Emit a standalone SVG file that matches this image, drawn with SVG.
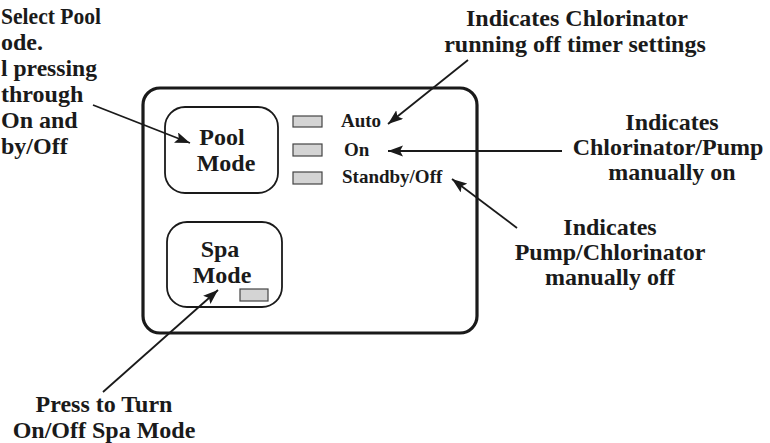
<svg xmlns="http://www.w3.org/2000/svg" width="770" height="443" viewBox="0 0 770 443">
<defs>
<marker id="ah" markerUnits="userSpaceOnUse" markerWidth="16" markerHeight="12" refX="15" refY="5.5" orient="auto">
<path d="M0,0 L15,5.5 L0,11 L3,5.5 z" fill="#1a1a1a"/>
</marker>
<style>
.lbl{font-family:"Liberation Serif","Times New Roman",serif;font-weight:bold;font-size:24px;fill:#1a1a1a}
.sm{font-family:"Liberation Serif","Times New Roman",serif;font-weight:bold;font-size:19px;fill:#1a1a1a}
.btn{fill:#fff;stroke:#1a1a1a;stroke-width:1.8}
.led{fill:#d4d4d4;stroke:#444;stroke-width:1.2}
.con{stroke:#1a1a1a;stroke-width:1.8;fill:none;marker-end:url(#ah)}
</style>
</defs>
<rect width="770" height="443" fill="#fff"/>
<g id="panel">
<rect x="143" y="88" width="334" height="245" rx="17" ry="17" fill="none" stroke="#1a1a1a" stroke-width="3.2"/>
</g>
<g id="pool-mode">
<rect class="btn" x="165" y="107" width="113" height="86" rx="20" ry="20"/>
<text class="lbl" x="222" y="145" text-anchor="middle">Pool</text>
<text class="lbl" x="226" y="171" text-anchor="middle">Mode</text>
</g>
<g id="spa-mode">
<rect class="btn" x="167" y="222" width="115" height="85" rx="20" ry="20"/>
<text class="lbl" x="220" y="257" text-anchor="middle">Spa</text>
<text class="lbl" x="222" y="283" text-anchor="middle">Mode</text>
<rect class="led" x="240" y="289" width="28" height="12"/>
</g>
<g id="led-auto">
<rect class="led" x="293" y="116" width="29" height="11"/>
<text class="sm" x="341" y="127">Auto</text>
</g>
<g id="led-on">
<rect class="led" x="293" y="144" width="29" height="12"/>
<text class="sm" x="344" y="156">On</text>
</g>
<g id="led-standby">
<rect class="led" x="293" y="172" width="29" height="12"/>
<text class="sm" x="342" y="183">Standby/Off</text>
</g>
<g id="note-pool">
<text class="lbl" x="1" y="24" textLength="100" lengthAdjust="spacingAndGlyphs">Select Pool</text>
<text class="lbl" x="1" y="50">ode.</text>
<text class="lbl" x="1" y="76" textLength="96" lengthAdjust="spacingAndGlyphs">l pressing</text>
<text class="lbl" x="1" y="102">through</text>
<text class="lbl" x="1" y="128">On and</text>
<text class="lbl" x="1" y="154">by/Off</text>
</g>
<g id="note-auto">
<text class="lbl" text-anchor="middle" x="577" y="26">Indicates Chlorinator</text>
<text class="lbl" text-anchor="middle" x="575" y="52">running off timer settings</text>
</g>
<g id="note-on">
<text class="lbl" text-anchor="middle" x="672" y="130">Indicates</text>
<text class="lbl" text-anchor="middle" x="668" y="155">Chlorinator/Pump</text>
<text class="lbl" text-anchor="middle" x="672" y="180">manually on</text>
</g>
<g id="note-off">
<text class="lbl" text-anchor="middle" x="610" y="235">Indicates</text>
<text class="lbl" text-anchor="middle" x="610" y="260">Pump/Chlorinator</text>
<text class="lbl" text-anchor="middle" x="610" y="285">manually off</text>
</g>
<g id="note-spa">
<text class="lbl" text-anchor="middle" x="104" y="412">Press to Turn</text>
<text class="lbl" text-anchor="middle" x="104" y="438">On/Off Spa Mode</text>
</g>
<g id="connectors">
<line class="con" x1="93" y1="105" x2="190" y2="143"/>
<line class="con" x1="468" y1="60" x2="388" y2="124"/>
<line class="con" x1="562" y1="151" x2="388" y2="151"/>
<line class="con" x1="517" y1="228" x2="452" y2="179"/>
<line class="con" x1="103" y1="392" x2="218" y2="290"/>
</g>
</svg>
